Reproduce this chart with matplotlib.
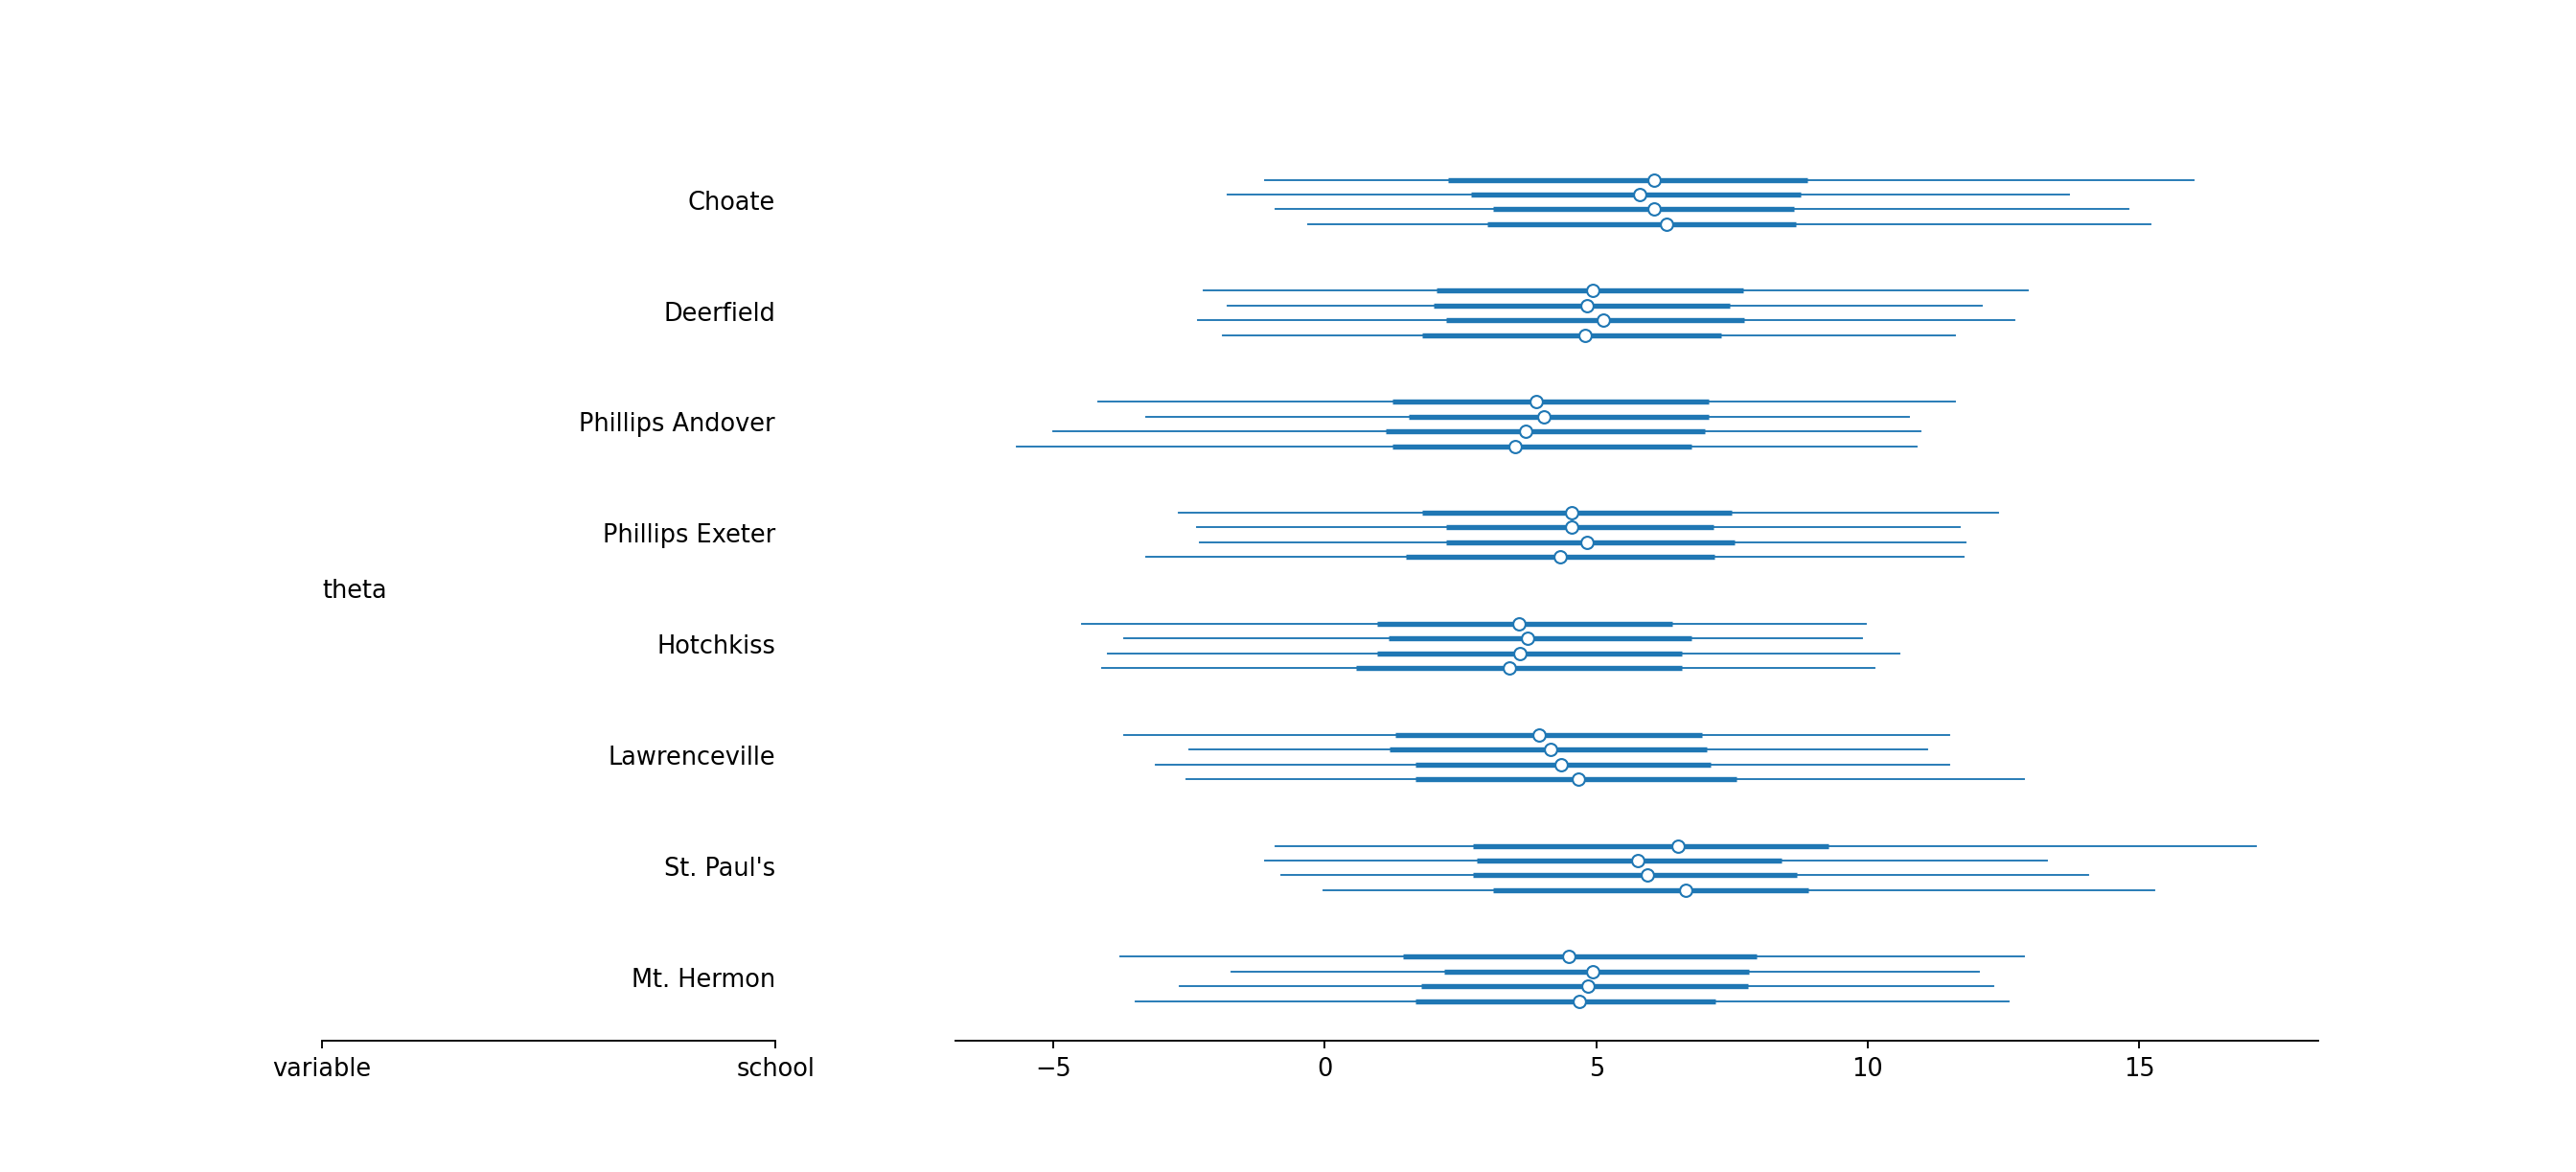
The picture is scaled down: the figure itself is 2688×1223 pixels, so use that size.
import matplotlib
matplotlib.use("Agg")
import matplotlib.pyplot as plt
import numpy as np

schools = ["Choate", "Deerfield", "Phillips Andover", "Phillips Exeter",
           "Hotchkiss", "Lawrenceville", "St. Paul's", "Mt. Hermon"]

# per school, 4 chains: (hdi94 low, hdi50 low, mean, hdi50 high, hdi94 high)
choate = [[-1.1, 2.27, 6.06, 8.88, 16.0], [-1.8, 2.7, 5.8, 8.76, 13.7],
          [-0.9, 3.1, 6.06, 8.64, 14.8], [-0.3, 3.0, 6.3, 8.67, 15.2]]
deerfield = [[-2.24, 2.06, 4.94, 7.7, 12.94], [-1.8, 2.0, 4.82, 7.45, 12.1],
             [-2.33, 2.24, 5.12, 7.73, 12.7], [-1.88, 1.79, 4.79, 7.3, 11.6]]
andover = [[-4.18, 1.24, 3.9, 7.07, 11.6], [-3.3, 1.55, 4.03, 7.07, 10.76],
           [-5.0, 1.12, 3.7, 7.0, 10.97], [-5.67, 1.24, 3.5, 6.76, 10.9]]
exeter = [[-2.7, 1.79, 4.55, 7.5, 12.4], [-2.36, 2.24, 4.55, 7.15, 11.7],
          [-2.3, 2.24, 4.82, 7.55, 11.8], [-3.3, 1.5, 4.33, 7.18, 11.76]]
hotchkiss = [[-4.48, 0.97, 3.58, 6.4, 9.97], [-3.7, 1.18, 3.73, 6.76, 9.9],
             [-4.0, 0.97, 3.6, 6.58, 10.58], [-4.1, 0.58, 3.39, 6.58, 10.12]]
lawrenceville = [[-3.7, 1.3, 3.94, 6.94, 11.5], [-2.5, 1.2, 4.15, 7.03, 11.1],
                 [-3.12, 1.67, 4.36, 7.1, 11.5], [-2.55, 1.67, 4.67, 7.58, 12.88]]
stpauls = [[-0.9, 2.73, 6.5, 9.27, 17.15], [-1.1, 2.8, 5.76, 8.42, 13.3],
           [-0.8, 2.73, 5.94, 8.7, 14.06], [-0.03, 3.1, 6.64, 8.9, 15.27]]
hermon = [[-3.77, 1.44, 4.49, 7.95, 12.87], [-1.72, 2.2, 4.93, 7.82, 12.05],
          [-2.67, 1.77, 4.85, 7.8, 12.31], [-3.48, 1.66, 4.69, 7.2, 12.6]]
groups = [choate, deerfield, andover, exeter, hotchkiss, lawrenceville, stpauls, hermon]

color = "#1f77b4"
fig = plt.figure(figsize=(16, 7.2857), dpi=168)
ax_lab = fig.add_axes([0.125, 0.112, 0.176, 0.768])
ax = fig.add_axes([0.371, 0.112, 0.529, 0.768])

n = len(groups)
step = 7.5
centers = []
for g, chains in enumerate(groups):
    base = (n - 1 - g) * step
    ys = [base + 3 - c for c in range(4)]
    centers.append(base + 1.5)
    for y, (lo94, lo50, m, hi50, hi94) in zip(ys, chains):
        ax.plot([lo94, hi94], [y, y], color=color, lw=0.8)
        ax.plot([lo50, hi50], [y, y], color=color, lw=2.3, solid_capstyle="butt")
        ax.plot(m, y, "o", mfc="white", mec=color, ms=5.5, mew=0.9)

ylim = (-2.67, 58.2)
ax.set_ylim(ylim)
ax.set_xlim(-6.8, 18.3)
ax.set_yticks([])
for s in ["left", "right", "top"]:
    ax.spines[s].set_visible(False)
ax.tick_params(labelsize=11)

ax_lab.set_ylim(ylim)
ax_lab.set_xlim(0, 1)
for name, c in zip(schools, centers):
    ax_lab.text(1, c, name, ha="right", va="center", fontsize=11)
ax_lab.text(0, np.mean(centers), "theta", ha="left", va="center", fontsize=11)
ax_lab.set_yticks([])
ax_lab.set_xticks([0, 1])
ax_lab.set_xticklabels(["variable", "school"])
ax_lab.tick_params(labelsize=11)
for s in ["left", "right", "top"]:
    ax_lab.spines[s].set_visible(False)

fig.savefig("out.png", dpi=168)
